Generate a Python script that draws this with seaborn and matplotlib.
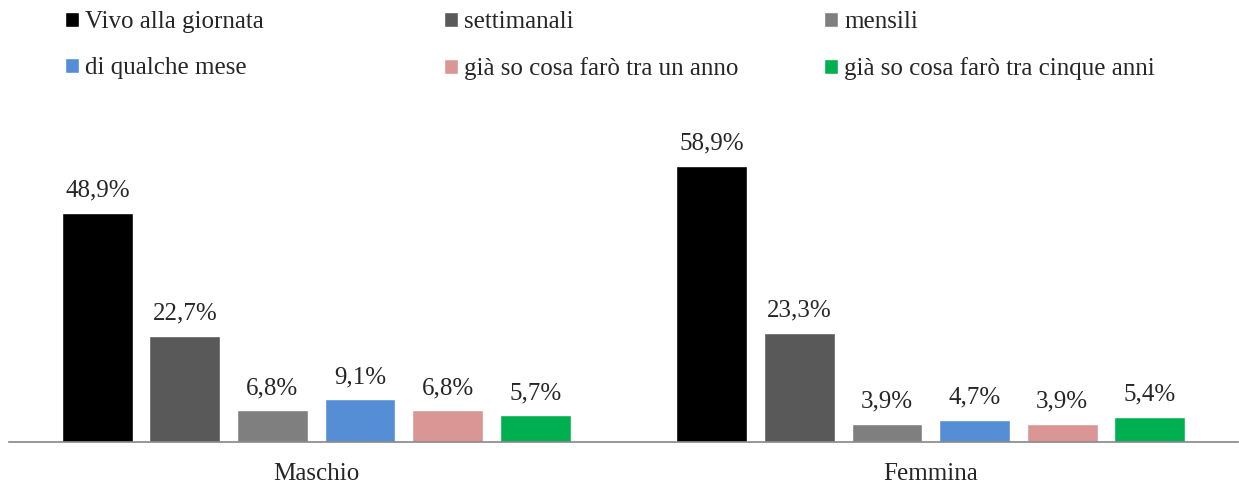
import matplotlib
matplotlib.use("Agg")
import matplotlib.pyplot as plt
import seaborn as sns
import pandas as pd

# Survey answers by gender (percent)
genders = ["Maschio", "Femmina"]
answers = [
    "Vivo alla giornata",
    "settimanali",
    "mensili",
    "di qualche mese",
    "già so cosa farò tra un anno",
    "già so cosa farò tra cinque anni",
]
maschio = [48.9, 22.7, 6.8, 9.1, 6.8, 5.7]
femmina = [58.9, 23.3, 3.9, 4.7, 3.9, 5.4]
colors = ["#000000", "#595959", "#7f7f7f", "#558ed5", "#d99694", "#00b050"]

rows = []
for g, vals in zip(genders, [maschio, femmina]):
    for a, v in zip(answers, vals):
        rows.append({"Genere": g, "Risposta": a, "Valore": v})
df = pd.DataFrame(rows)

sns.set_theme(style="white")
plt.rcParams["font.family"] = ["Liberation Serif", "DejaVu Serif"]

W, H = 1239, 486
fig = plt.figure(figsize=(W / 100, H / 100), dpi=100)
ax = fig.add_axes([9 / W, (H - 442) / H, 1229 / W, 328 / H])

sns.barplot(
    data=df, x="Genere", y="Valore", hue="Risposta",
    order=genders, hue_order=answers, palette=colors,
    width=0.855, gap=0.19, saturation=1, legend=True, ax=ax,
)

ax.set_ylim(0, 70)
ax.set_xlim(-0.5, 1.5)
ax.set_xlabel("")
ax.set_ylabel("")
ax.set_yticks([])
for s in ["left", "right", "top"]:
    ax.spines[s].set_visible(False)
ax.spines["bottom"].set_color("#868686")
ax.spines["bottom"].set_linewidth(1.2)
ax.tick_params(axis="x", length=0, labelsize=18, pad=15)

for cont in ax.containers:
    ax.bar_label(
        cont,
        labels=[f"{v:.1f}%".replace(".", ",") for v in cont.datavalues],
        padding=8, fontsize=18,
    )

handles, labels = ax.get_legend_handles_labels()
ax.get_legend().remove()

# Legend laid out as three columns, two rows each
col_x = [65 / W, 444 / W, 824 / W]
for c in range(3):
    idx = [c, c + 3]
    fig.legend(
        [handles[i] for i in idx], [labels[i] for i in idx],
        loc="upper left", bbox_to_anchor=(col_x[c], 1 - 11 / H),
        frameon=False, fontsize=18, handlelength=0.56, handleheight=0.56,
        handletextpad=0.25, labelspacing=0.96, borderaxespad=0, borderpad=0,
    )

fig.savefig("out.png", dpi=100)
